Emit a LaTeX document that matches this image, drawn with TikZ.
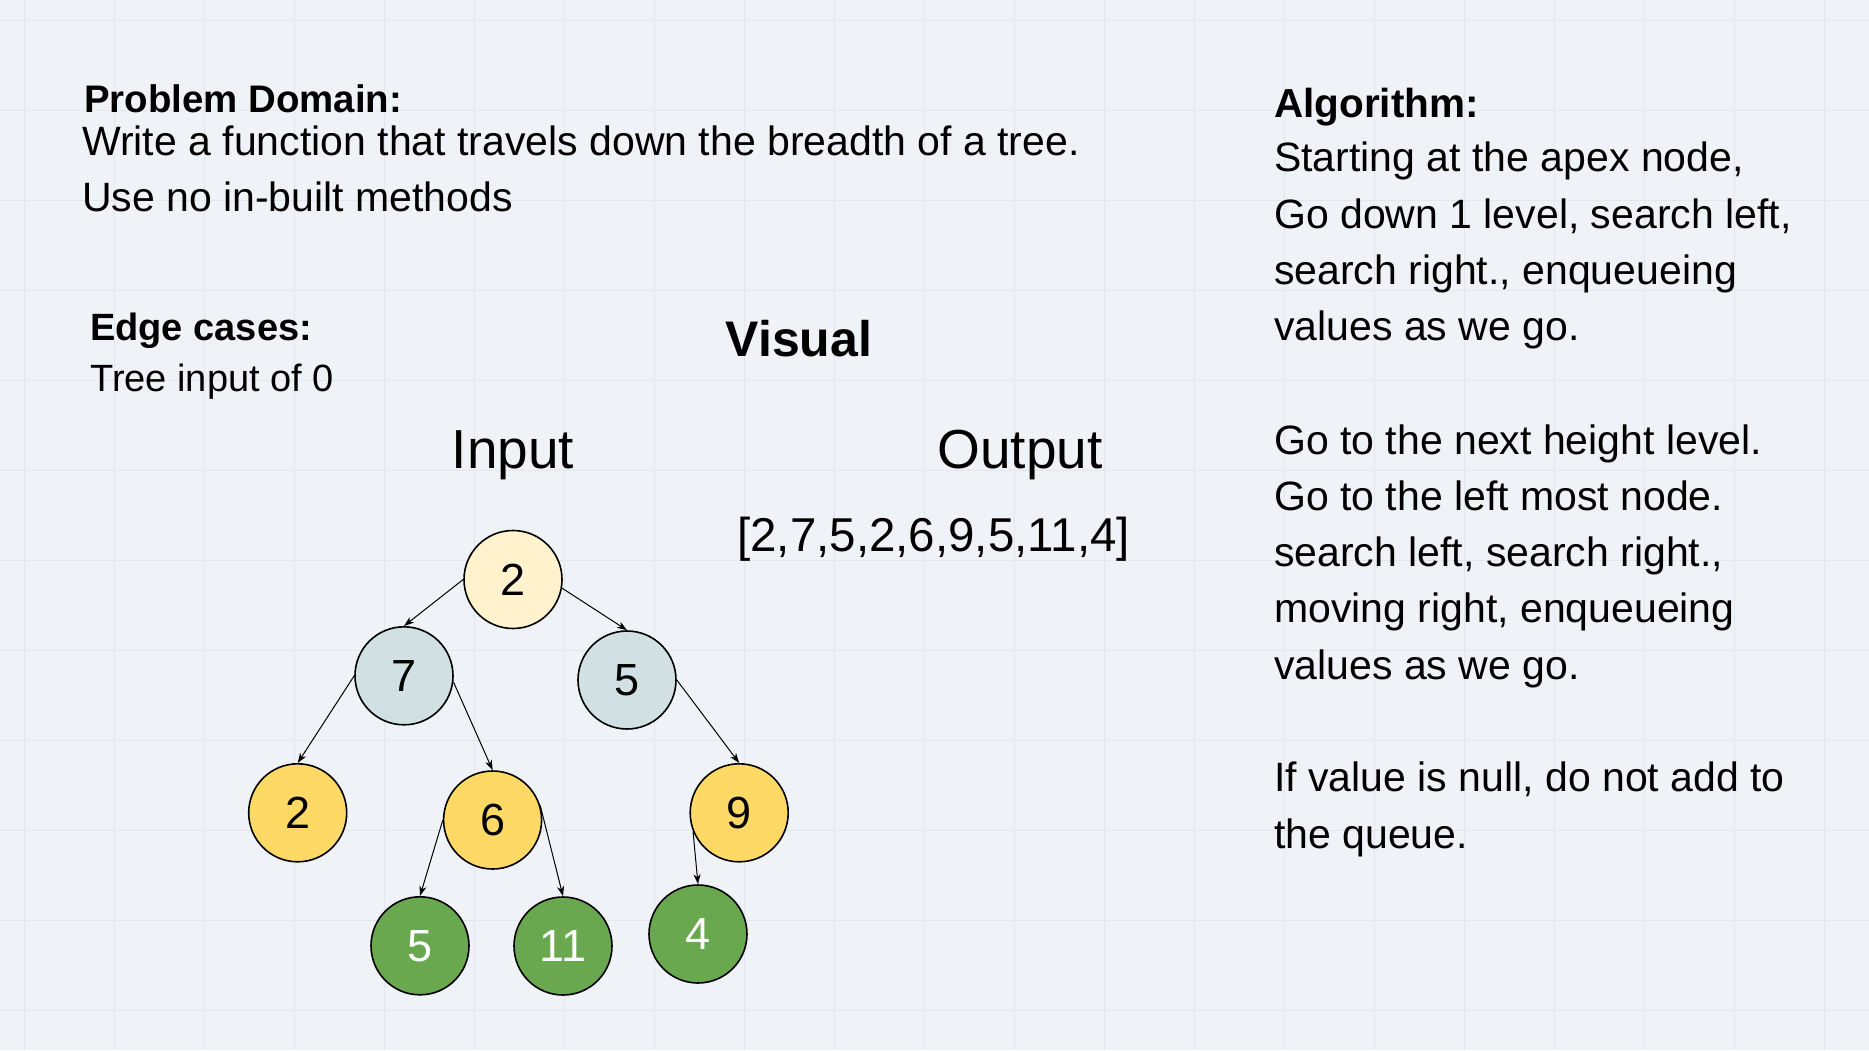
\documentclass[tikz,border=0pt]{standalone}
\usepackage{fontspec}
\setmainfont{Liberation Sans}
\usepackage{xcolor}
\usetikzlibrary{arrows.meta}

\definecolor{bgpaper}{HTML}{EFF3F7}
\definecolor{gridgrey}{HTML}{E1E7EC}
\definecolor{creamfill}{HTML}{FFF2CC}
\definecolor{slatefill}{HTML}{D0E0E3}
\definecolor{goldfill}{HTML}{FFD966}
\definecolor{leaffill}{HTML}{6AA84F}

\begin{document}
\begin{tikzpicture}[x=1pt,y=-1pt,
    circ/.style={shape=circle, draw, line width=1.6pt, minimum size=98pt, inner sep=0pt, font=\fontsize{45}{54}\selectfont},
    lvlzero/.style={circ, fill=creamfill},
    lvlone/.style={circ, fill=slatefill},
    lvltwo/.style={circ, fill=goldfill},
    lvlthree/.style={circ, fill=leaffill, text=white},
    link/.style={line width=1pt, -{Stealth[length=10pt,width=7pt,inset=3pt]}},
    txt/.style={anchor=base west, inner sep=0pt, font=\fontsize{41}{48}\selectfont},
    hdr/.style={anchor=base west, inner sep=0pt, font=\bfseries\fontsize{38.4}{46}\selectfont}]
    \useasboundingbox (0,0) rectangle (1869,1050);
    \fill[bgpaper] (0,0) rectangle (1869,1050);
    \begin{scope}[shift={(24.5,20.7)}]
      \draw[gridgrey, line width=1pt, step=90pt] (-24.5,-20.7) grid (1844.5,1029.3);
    \end{scope}

    % left column
    \node[hdr] (probhead) at (84,112.7) {Problem Domain:};
    \node[txt] (prob1) at (82,155) {Write a function that travels down the breadth of a tree.};
    \node[txt] (prob2) at (82,211) {Use no in-built methods};
    \node[hdr, font=\bfseries\fontsize{38}{46}\selectfont] (edgehead) at (90,340) {Edge cases:};
    \node[txt, font=\fontsize{38}{46}\selectfont] (edge1) at (90,391.7) {Tree input of 0};

    % middle
    \node[anchor=base, inner sep=0pt, font=\bfseries\fontsize{50}{60}\selectfont] (visual) at (799,356.7) {Visual};
    \node[anchor=base, inner sep=0pt, font=\fontsize{55}{66}\selectfont] (input) at (513,468.3) {Input};
    \node[anchor=base, inner sep=0pt, font=\fontsize{55}{66}\selectfont] (output) at (1020,468.3) {Output};
    \node[anchor=base, inner sep=0pt, font=\fontsize{47.5}{57}\selectfont] (result) at (933.5,551.7) {[2,7,5,2,6,9,5,11,4]};

    % right column
    \node[hdr, font=\bfseries\fontsize{40.5}{48}\selectfont] (alghead) at (1274,117.3) {Algorithm:};
    \node[txt] (alg0) at (1274,171.7) {Starting at the apex node,};
    \node[txt] (alg1) at (1274,228.0) {Go down 1 level, search left,};
    \node[txt] (alg2) at (1274,284.3) {search right., enqueueing};
    \node[txt] (alg3) at (1274,340.6) {values as we go.};
    \node[txt] (alg5) at (1274,454.0) {Go to the next height level.};
    \node[txt] (alg6) at (1274,510.3) {Go to the left most node.};
    \node[txt] (alg7) at (1274,566.6) {search left, search right.,};
    \node[txt] (alg8) at (1274,622.9) {moving right, enqueueing};
    \node[txt] (alg9) at (1274,679.2) {values as we go.};
    \node[txt] (alg11) at (1274,791.7) {If value is null, do not add to};
    \node[txt] (alg12) at (1274,848.3) {the queue.};

    % tree
    \node[lvlzero] (top2) at (513,579.5) {2};
    \node[lvlone] (mid7) at (404,675.8) {7};
    \node[lvlone] (mid5) at (627,680) {5};
    \node[lvltwo] (low2) at (297.7,812.8) {2};
    \node[lvltwo] (low6) at (492.6,820) {6};
    \node[lvltwo] (low9) at (739.2,812.8) {9};
    \node[lvlthree] (leaf5) at (420,945.8) {5};
    \node[lvlthree] (leaf11) at (563,946) {11};
    \node[lvlthree] (leaf4) at (698,934) {4};

    \draw[link] (top2.west) -- (mid7.north);
    \draw[link] (top2.-10) -- (mid5.north);
    \draw[link] (mid7.west) -- (low2.north);
    \draw[link] (mid7.-7) -- (low6.north);
    \draw[link] (mid5.east) -- (low9.north);
    \draw[link] (low6.west) -- (leaf5.north);
    \draw[link] (low6.17) -- (leaf11.north);
    \draw[link] (low9.-158) -- (leaf4.north);
  \end{tikzpicture}
\end{document}
